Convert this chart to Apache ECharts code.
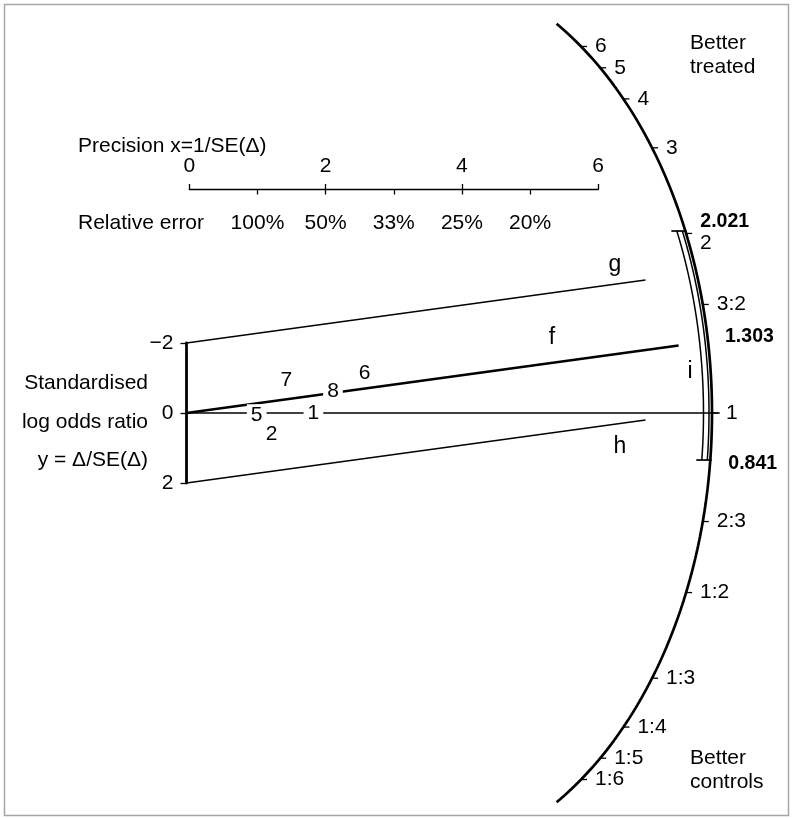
<!DOCTYPE html>
<html>
<head>
<meta charset="utf-8">
<script src="https://cdn.jsdelivr.net/npm/echarts@6/dist/echarts.min.js"></script>
<style>
  html, body { margin: 0; padding: 0; background: #fff; }
  #chart { width: 793px; height: 818px; }
</style>
</head>
<body>
<div id="chart"></div>
<script>
// ---- data -------------------------------------------------------------
// trials: precision x = 1/SE(Δ) and standardised estimate y = Δ/SE(Δ)
const studyLabels       = ['1', '2', '5', '6', '7', '8'];
const studyPrecision    = [1.88, 1.26, 1.04, 2.64, 1.48, 2.17];
const studyStandardised = [0.00, 0.62, 0.05, -1.15, -0.95, -0.62];

// pooled odds ratio with its 95% interval
const pooledOR    = 1.303;
const intervalLow = 0.841;
const intervalHigh = 2.021;
const bandHalfWidth = 2;          // lines g and h: y = fit ± 2
const fitLineReach  = 7.29;       // precision where line f stops
const bandLineReach = 6.8;        // precision where g and h stop
const zeroLineReach = 7.9;

// radial odds-ratio scale
const arcTickValues = [6, 5, 4, 3, 2, 3 / 2, 1, 2 / 3, 1 / 2, 1 / 3, 1 / 4, 1 / 5, 1 / 6];
const arcTickLabels = ['6', '5', '4', '3', '2', '3:2', '1', '2:3', '1:2', '1:3', '1:4', '1:5', '1:6'];

// precision ruler and relative error
const precisionTicks = [0, 2, 4, 6];
const relErrorAt     = [1, 2, 3, 4, 5];
const relErrorLabels = ['100%', '50%', '33%', '25%', '20%'];

// standardised axis
const standardisedTicks = [-2, 0, 2];

// ---- layout -----------------------------------------------------------
const W = 793, H = 818;
const OX = 186.5, OY = 413;          // pixel position of (0, 0)
const UX = 67.5, UY = 35;            // pixels per unit
const xMin = -OX / UX, xMax = (W - OX) / UX;
const yMin = -OY / UY, yMax = (H - OY) / UY;
const FONT = '"Liberation Sans", Arial, Helvetica, sans-serif';
const FS = 21;
const FS_BOLD = 19.5;
const FS_LETTER = 23;

// the odds-ratio arc, an ellipse in data units
const ARC_CX = (400 - OX) / UX, ARC_A = 312 / UX, ARC_B = 450 / UY, ARC_END = 11.12;
function arcX(y) { return ARC_CX + ARC_A * Math.sqrt(Math.max(0, 1 - (y / ARC_B) ** 2)); }
// where the ray y = -ln(v)·x meets the arc
function arcPoint(v) {
  const s = -Math.log(v);
  const a = 1 / ARC_A ** 2 + (s * s) / ARC_B ** 2;
  const b = -2 * ARC_CX / ARC_A ** 2;
  const c = ARC_CX ** 2 / ARC_A ** 2 - 1;
  const x = (-b + Math.sqrt(b * b - 4 * a * c)) / (2 * a);
  return [x, s * x];
}

const arcData = [];
for (let i = 0; i <= 240; i++) {
  const y = -ARC_END + (2 * ARC_END * i) / 240;
  arcData.push([arcX(y), y]);
}
const yHigh = arcPoint(intervalHigh)[1], yLow = arcPoint(intervalLow)[1];
function bracketLine(offsetPx) {
  const pts = [];
  for (let i = 0; i <= 80; i++) {
    const y = yHigh + ((yLow - yHigh) * i) / 80;
    pts.push([arcX(y) - offsetPx / UX, y]);
  }
  return pts;
}

const lnOR = Math.log(pooledOR);
const fitSegments = [[0, 0, fitLineReach, -lnOR * fitLineReach]];
const thinSegments = [
  [0, -bandHalfWidth, bandLineReach, -bandHalfWidth - lnOR * bandLineReach],
  [0, bandHalfWidth, bandLineReach, bandHalfWidth - lnOR * bandLineReach],
  [0, 0, zeroLineReach, 0]
];

function segmentSeries(data, width) {
  return {
    type: 'custom', xAxisIndex: 0, yAxisIndex: 0, silent: true, z: 3,
    data: data,
    renderItem(params, api) {
      const a = api.coord([api.value(0), api.value(1)]);
      const b = api.coord([api.value(2), api.value(3)]);
      return { type: 'line', shape: { x1: a[0], y1: a[1], x2: b[0], y2: b[1] },
               style: { stroke: '#000', lineWidth: width, lineCap: 'butt' } };
    }
  };
}

function txt(x, y, text, align, size) {
  return {
    type: 'text', x: x, y: y, silent: true,
    style: { text: text, font: (size || FS) + 'px ' + FONT, fill: '#000',
             align: align || 'left', verticalAlign: 'middle' }
  };
}

const chart = echarts.init(document.getElementById('chart'), null, { renderer: 'canvas' });

chart.setOption({
  animation: false,
  backgroundColor: '#fff',
  grid: [
    { left: 0, top: 0, width: W, height: H },
    { left: OX, top: OY - 2 * UY, width: 10, height: 4 * UY },
    { left: 189.3, top: 188.5, width: 408.9, height: 1 }
  ],
  xAxis: [
    { gridIndex: 0, type: 'value', min: xMin, max: xMax, show: false },
    { gridIndex: 1, type: 'value', min: 0, max: 1, show: false },
    {
      gridIndex: 2, type: 'value', position: 'top', min: 0, max: 6, interval: 2,
      axisLine: { show: true, lineStyle: { color: '#000', width: 1.3 } },
      axisTick: { show: true, inside: false, length: 5.5, lineStyle: { color: '#000', width: 1.3 } },
      axisLabel: { show: true, margin: 12, color: '#000', fontSize: FS, fontFamily: FONT,
                   customValues: precisionTicks },
      splitLine: { show: false }
    },
    {
      gridIndex: 2, type: 'value', position: 'bottom', min: 0, max: 6, interval: 1,
      axisLine: { show: false },
      axisTick: { show: true, inside: false, length: 5, lineStyle: { color: '#000', width: 1.3 },
                  customValues: relErrorAt },
      axisLabel: { show: true, margin: 23, color: '#000', fontSize: FS, fontFamily: FONT,
                   customValues: relErrorAt,
                   formatter: v => relErrorLabels[relErrorAt.indexOf(Math.round(v))] || '' },
      splitLine: { show: false }
    }
  ],
  yAxis: [
    { gridIndex: 0, type: 'value', min: yMin, max: yMax, inverse: true, show: false },
    {
      gridIndex: 1, type: 'value', min: -2, max: 2, interval: 2, inverse: true, position: 'left',
      axisLine: { show: true, lineStyle: { color: '#000', width: 2.8 } },
      axisTick: { show: true, length: 6, lineStyle: { color: '#000', width: 1.3 } },
      axisLabel: { show: true, margin: 13, color: '#000', fontSize: FS, fontFamily: FONT,
                   customValues: standardisedTicks,
                   formatter: v => (v < 0 ? '\u2212' + (-v) : String(v)) },
      splitLine: { show: false }
    },
    { gridIndex: 2, type: 'value', min: 0, max: 1, show: false }
  ],
  series: [
    // the odds-ratio arc
    { type: 'line', xAxisIndex: 0, yAxisIndex: 0, data: arcData, showSymbol: false, silent: true,
      lineStyle: { color: '#000', width: 2.7 }, z: 2 },
    // interval i: two thin arcs inside the scale
    { type: 'line', xAxisIndex: 0, yAxisIndex: 0, data: bracketLine(3), showSymbol: false, silent: true,
      lineStyle: { color: '#000', width: 1.5 }, z: 2 },
    { type: 'line', xAxisIndex: 0, yAxisIndex: 0, data: bracketLine(8.5), showSymbol: false, silent: true,
      lineStyle: { color: '#000', width: 1.5 }, z: 2 },
    // caps of the interval
    {
      type: 'custom', xAxisIndex: 0, yAxisIndex: 0, silent: true, z: 3,
      data: [arcPoint(intervalHigh), arcPoint(intervalLow)],
      renderItem(params, api) {
        const p = api.coord([api.value(0), api.value(1)]);
        return { type: 'line', shape: { x1: p[0] - 14, y1: p[1], x2: p[0] + 1.5, y2: p[1] },
                 style: { stroke: '#000', lineWidth: 1.7 } };
      }
    },
    // fitted line f, band lines g, h and the zero line
    segmentSeries(fitSegments, 2.6),
    segmentSeries(thinSegments, 1.3),
    // ticks and labels of the radial scale
    {
      type: 'custom', xAxisIndex: 0, yAxisIndex: 0, silent: true, z: 4,
      data: arcTickValues.map(v => arcPoint(v)),
      renderItem(params, api) {
        const p = api.coord([api.value(0), api.value(1)]);
        const label = arcTickLabels[params.dataIndex];
        const dy = label === '2' ? 9.5 : 0;
        return {
          type: 'group',
          children: [
            { type: 'line', shape: { x1: p[0], y1: p[1], x2: p[0] + 6, y2: p[1] },
              style: { stroke: '#000', lineWidth: 1.3 } },
            { type: 'text', x: p[0] + 14, y: p[1] + dy,
              style: { text: label, font: FS + 'px ' + FONT, fill: '#000', align: 'left', verticalAlign: 'middle' } }
          ]
        };
      }
    },
    // odds ratio values of the estimate and its interval
    {
      type: 'custom', xAxisIndex: 0, yAxisIndex: 0, silent: true, z: 4,
      data: [intervalHigh, pooledOR, intervalLow].map(v => arcPoint(v)),
      renderItem(params, api) {
        const p = api.coord([api.value(0), api.value(1)]);
        const text = [intervalHigh, pooledOR, intervalLow][params.dataIndex].toFixed(3);
        const off = [[15, -9], [17, -5], [18, 3.5]][params.dataIndex];
        return { type: 'text', x: p[0] + off[0], y: p[1] + off[1],
                 style: { text: text, font: 'bold ' + FS_BOLD + 'px ' + FONT, fill: '#000', align: 'left', verticalAlign: 'middle' } };
      }
    },
    // trial numbers
    {
      type: 'custom', xAxisIndex: 0, yAxisIndex: 0, silent: true, z: 6,
      data: studyPrecision.map((x, i) => [x, studyStandardised[i]]),
      renderItem(params, api) {
        const p = api.coord([api.value(0), api.value(1)]);
        return { type: 'text', x: p[0], y: p[1],
                 style: { text: studyLabels[params.dataIndex], font: FS + 'px ' + FONT, fill: '#000',
                          align: 'center', verticalAlign: 'middle', backgroundColor: '#fff', padding: [0, 4] } };
      }
    }
  ],
  graphic: [
    { type: 'rect', silent: true, shape: { x: 4.5, y: 4.5, width: 784, height: 811 },
      style: { fill: 'none', stroke: '#a6a6a6', lineWidth: 1.5 } },
    txt(78, 146, 'Precision x=1/SE(\u0394)'),
    txt(78, 223.6, 'Relative error'),
    txt(148, 383, 'Standardised', 'right'),
    txt(148, 422, 'log odds ratio', 'right'),
    txt(148, 460, 'y = \u0394/SE(\u0394)', 'right'),
    txt(690, 43, 'Better'),
    txt(690, 67, 'treated'),
    txt(690, 758, 'Better'),
    txt(690, 782, 'controls'),
    txt(615, 265, 'g', 'center', FS_LETTER),
    txt(552, 338, 'f', 'center', FS_LETTER),
    txt(620, 447, 'h', 'center', FS_LETTER),
    txt(690, 372, 'i', 'center', FS_LETTER)
  ]
});
</script>
</body>
</html>
